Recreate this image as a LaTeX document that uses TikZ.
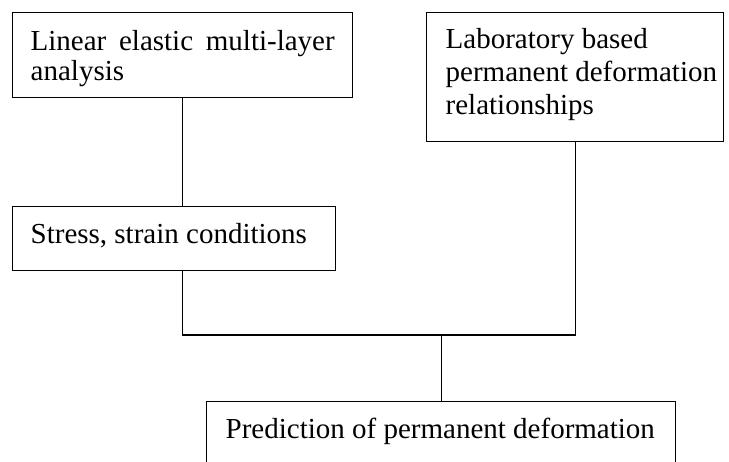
\documentclass[tikz,border=0pt]{standalone}
\usepackage{fontspec}
\setmainfont{Liberation Serif}

% Text block of a box: #1 height, #2 width, #3 left padding,
% #4 line pitch, #5 height of the first line above its baseline, #6 text
\newcommand{\celltext}[6]{%
  \parbox[c][#1][t]{#2}{\fontsize{29pt}{#4}\selectfont
    \leftskip=#3\relax\rightskip=0pt plus 1fil\relax
    \rule{0pt}{#5}#6}}

\tikzset{
  flowbox/.style={draw, line width=1.4pt, inner sep=0pt, anchor=north west},
  link/.style={line width=1.4pt}
}

\begin{document}
\begin{tikzpicture}[x=1pt, y=1pt]
  \useasboundingbox (0,0) rectangle (729,-461);
  \clip (0,0) rectangle (729,-461);

  \node[flowbox] (lin) at (12,-12)
    {\celltext{85pt}{340pt}{18pt}{30pt}{38pt}{\makebox[304pt][s]{Linear elastic multi-layer}\\analysis}};
  \node[flowbox] (lab) at (426,-12)
    {\celltext{129pt}{297pt}{19pt}{33pt}{36pt}{Laboratory based\\permanent deformation\\relationships}};
  \node[flowbox] (str) at (12,-206)
    {\celltext{64pt}{323pt}{18pt}{33pt}{37pt}{Stress, strain conditions}};
  \node[flowbox] (pre) at (206,-401)
    {\celltext{100pt}{469pt}{19pt}{33pt}{37pt}{Prediction of permanent deformation}};

  \coordinate (bus) at (0,-335);

  \draw[link] (lin.south) -- (lin.south |- str.north);
  \draw[link] (lin.south |- str.south) -- (lin.south |- bus) -- (lab.south |- bus) -- (lab.south);
  \draw[link] (pre.north |- bus) -- (pre.north);
\end{tikzpicture}
\end{document}
